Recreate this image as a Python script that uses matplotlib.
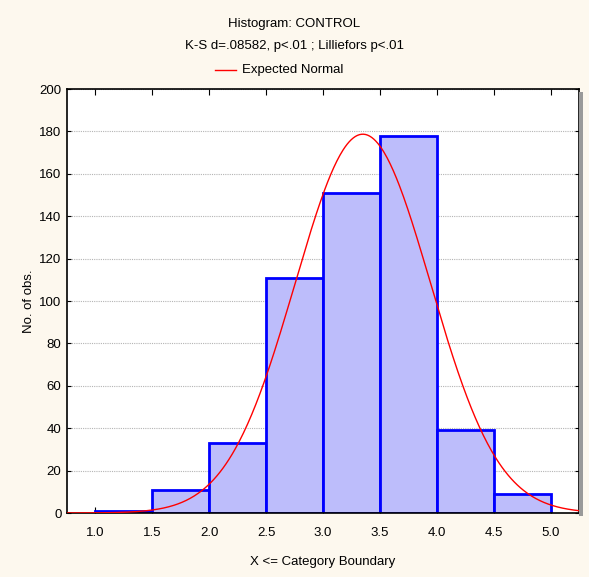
import numpy as np
import matplotlib
matplotlib.use("Agg")
import matplotlib.pyplot as plt
from matplotlib.lines import Line2D

# Data
bin_edges = [1.0, 1.5, 2.0, 2.5, 3.0, 3.5, 4.0, 4.5, 5.0]
counts = [1, 11, 33, 111, 151, 178, 39, 9]
normal_mean = 3.35
normal_sd = 0.595
x_ticks = [1.0, 1.5, 2.0, 2.5, 3.0, 3.5, 4.0, 4.5, 5.0]
y_ticks = [0, 20, 40, 60, 80, 100, 120, 140, 160, 180, 200]

plt.rcParams['font.family'] = ['Liberation Sans', 'DejaVu Sans']
fs = 9.5

bg = '#FDF8EE'
fig = plt.figure(figsize=(5.89, 5.77), dpi=100, facecolor=bg)
ax = fig.add_axes([67/589, 1-513/577, (579-67)/589, (513-89)/577])
ax.set_facecolor('white')

# shadow on right
fig.patches.append(plt.Rectangle((579/589, 1-516/577), 4/589, (516-92)/577,
                                 transform=fig.transFigure, facecolor='#9a9a9a',
                                 edgecolor='none', zorder=0))

widths = np.diff(bin_edges)
lefts = np.array(bin_edges[:-1])
ax.bar(lefts, counts, width=widths, align='edge', color='#BDBDFB',
       edgecolor='#0000FF', linewidth=2, zorder=2)

total = sum(counts)
bw = widths[0]
xs = np.linspace(0.75, 5.25, 500)
ys = total * bw / (normal_sd * np.sqrt(2 * np.pi)) * np.exp(-0.5 * ((xs - normal_mean) / normal_sd) ** 2)
ax.plot(xs, ys, color='#FF0000', linewidth=1, zorder=3)

ax.set_xlim(0.75, 5.25)
ax.set_ylim(0, 200)
ax.set_xticks(x_ticks)
ax.set_xticklabels([f"{v:.1f}" for v in x_ticks])
ax.set_yticks(y_ticks)
ax.set_yticklabels([str(v) for v in y_ticks])
ax.yaxis.grid(True, color='#B4B4B4', linestyle=(0, (1, 1)), linewidth=0.8, zorder=1)
ax.set_axisbelow(True)

ax.tick_params(axis='y', which='both', left=True, direction='out', length=3,
               labelsize=fs, pad=4)
ax.tick_params(axis='y', which='both', right=True, direction='in')
ax.tick_params(axis='x', which='both', bottom=True, top=True, direction='in', length=4,
               labelsize=fs, pad=10)
for s in ax.spines.values():
    s.set_linewidth(1.2)
    s.set_color('black')

ax.set_ylabel('No. of obs.', fontsize=fs, labelpad=3)
ax.set_xlabel('X <= Category Boundary', fontsize=fs, labelpad=12)

fig.text(0.5, 1-24/577, 'Histogram: CONTROL', ha='center', va='center', fontsize=fs)
fig.text(0.5, 1-46/577, 'K-S d=.08582, p<.01 ; Lilliefors p<.01', ha='center', va='center', fontsize=fs)
fig.add_artist(Line2D([215/589, 236/589], [1-70/577, 1-70/577], color='#FF0000', linewidth=1,
                      transform=fig.transFigure))
fig.text(242/589, 1-70/577, 'Expected Normal', ha='left', va='center', fontsize=fs)

fig.savefig('out.png', dpi=100, facecolor=bg)
